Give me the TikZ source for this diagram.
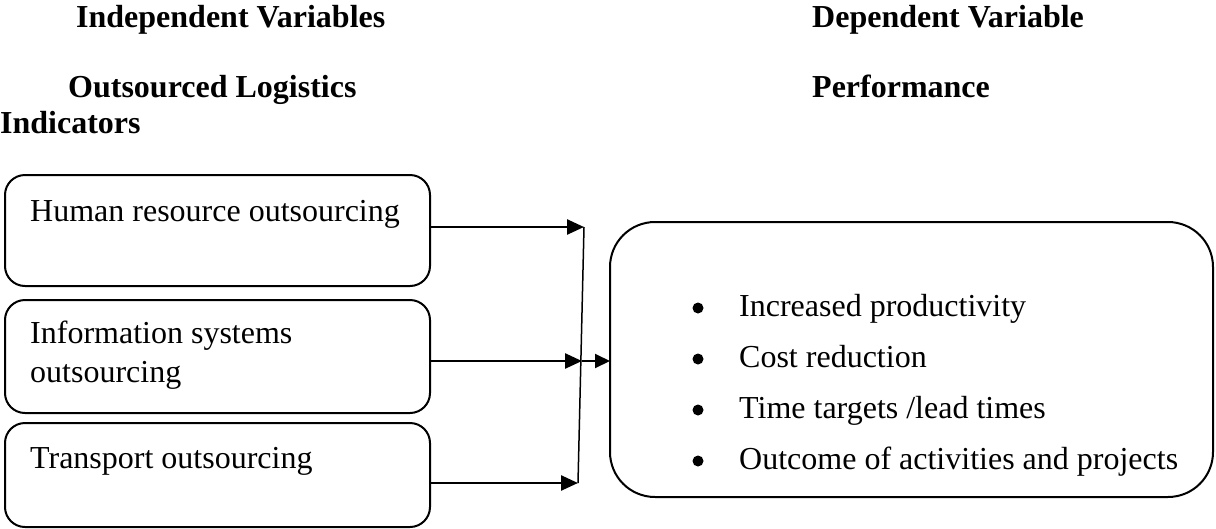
\documentclass[tikz,border=0pt]{standalone}
\usepackage{fontspec}
\setmainfont{Liberation Serif}
\usetikzlibrary{arrows.meta,positioning}

\tikzset{
    txt/.style={anchor=base west, inner sep=0pt, font=\fontsize{32}{38}\selectfont},
    head/.style={txt, font=\fontsize{32}{38}\selectfont\bfseries},
    ibox/.style={draw, line width=2pt, rounded corners=20pt, anchor=north west,
        inner sep=0pt, outer sep=0pt, minimum width=425pt},
    obox/.style={draw, line width=2pt, rounded corners=45pt, anchor=north west,
        inner sep=0pt, outer sep=0pt, minimum width=603pt, minimum height=275pt},
    dot/.style={circle, fill, inner sep=0pt, minimum size=11pt},
    arr/.style={line width=2.5pt, -{Triangle[length=17pt, width=15pt]}},
}

\begin{document}
\begin{tikzpicture}[x=1pt, y=-1pt]
            \useasboundingbox (0, 0) rectangle (1216, 528);

            % headings
            \node[head] (indep) at (76, 27) {Independent Variables};
            \node[head] (dep) at (812, 27) {Dependent Variable};
            \node[head] (logist) at (68, 97) {Outsourced Logistics};
            \node[head] (indic) at (0, 133) {Indicators};
            \node[head] (perfhead) at (812, 97) {Performance};

            % independent variables
            \node[ibox, minimum height=111pt] (hr) at (5, 175) {};
            \node[ibox, minimum height=113pt] (is) at (5, 300) {};
            \node[ibox, minimum height=104pt] (tr) at (5, 423) {};
            \node[txt] (hrtext) at (30, 221) {Human resource outsourcing};
            \node[txt] (istext) at (30, 343) {Information systems};
            \node[txt] (istext2) at (30, 382) {outsourcing};
            \node[txt] (trtext) at (30, 468) {Transport outsourcing};

            % dependent variable
            \node[obox] (perf) at (610, 222) {};
            \foreach \item [count=\i] in {Increased productivity, Cost reduction,
                Time targets /lead times, Outcome of activities and projects} {
                \node[txt] (item\i) at (739, 265 + 51*\i) {\item};
                \node[dot] (dot\i) at (698, 257 + 51*\i) {};
            }

            % connectors
            \coordinate (j1) at (584, 227);
            \coordinate (j2) at (582, 361);
            \coordinate (j3) at (578, 483);
            \draw[arr] (hr.east |- j1) -- (j1);
            \draw[arr] (is.east |- j2) -- (j2);
            \draw[arr] (tr.east |- j3) -- (j3);
            \draw[line width=1.5pt] (j1) -- (j3);
            \draw[line width=2pt, -{Triangle[length=15pt, width=14pt]}] (j2) -- (perf.west |- j2);
        \end{tikzpicture}
\end{document}
